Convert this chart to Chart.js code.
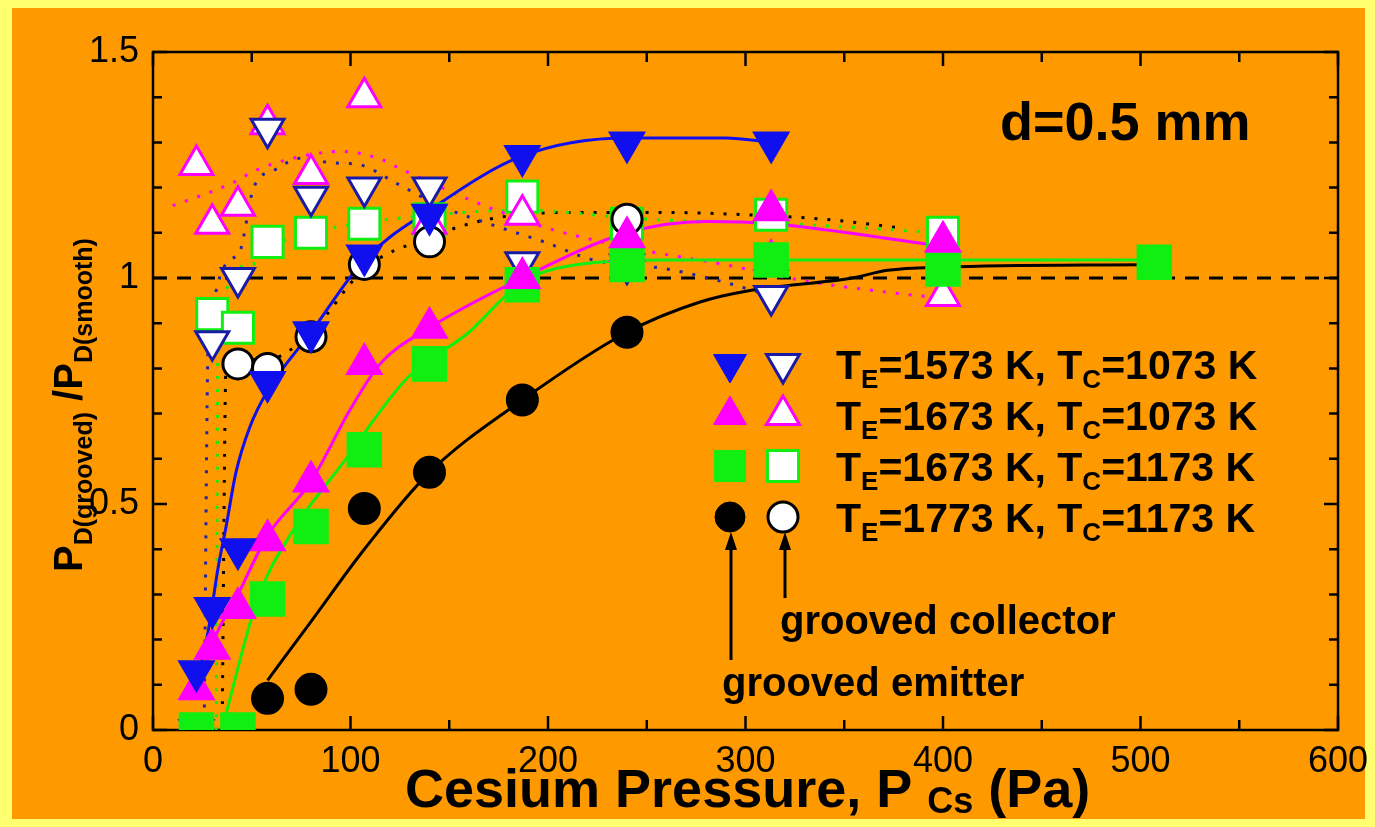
<!DOCTYPE html>
<html>
<head>
<meta charset="utf-8">
<script src="https://cdn.jsdelivr.net/npm/chart.js@4.4.1/dist/chart.umd.min.js"></script>
<style>
  html, body { margin: 0; padding: 0; background: #ffff66; }
  #wrap { width: 1375px; height: 827px; }
</style>
</head>
<body>
<div id="wrap"><canvas id="mychart" width="1375" height="827"></canvas></div>
<script>
//. cesium pressure values (Pa) shared by the measured points
var pressure = [ 22, 30, 43, 58, 80, 107, 140, 187, 240, 313, 400, 507 ];

//. P_D(grooved)/P_D(smooth), null = no point
var te1573_emitter   = [ 0.13, 0.27, 0.40, 0.77, 0.88, 1.05, 1.14, 1.27, 1.30, 1.30, null, null ];
var te1573_collector = [ 0.00, 0.86, 1.00, 1.33, 1.18, 1.20, 1.20, 1.035, 1.03, 0.96, null, null ];
var te1673_emitter   = [ 0.09, 0.18, 0.27, 0.42, 0.55, 0.81, 0.89, 1.00, 1.09, 1.15, 1.08, null ];
var te1673_collector = [ 1.25, 1.12, 1.16, 1.34, 1.23, 1.40, 1.12, 1.14, 1.06, 1.04, 0.96, null ];
var tc1173_emitter   = [ 0.00, null, 0.00, 0.29, 0.45, 0.62, 0.81, 0.985, 1.03, 1.04, 1.02, 1.035 ];
var tc1173_collector = [ null, 0.92, 0.89, 1.08, 1.10, 1.12, 1.13, 1.18, 1.12, 1.14, 1.10, null ];
var te1773_emitter   = [ null, null, null, 0.07, 0.09, 0.49, 0.57, 0.73, 0.88, null, null, null ];
var te1773_collector = [ null, null, 0.81, 0.80, 0.87, 1.03, 1.08, null, 1.13, null, null, null ];

//. fitted curves (solid = grooved emitter)
var fit1573_x = [ 22, 28, 33, 37, 42, 49, 58, 80, 107, 140, 187, 240, 290, 313 ];
var fit1573_y = [ 0.10, 0.22, 0.36, 0.45, 0.57, 0.67, 0.75, 0.88, 1.04, 1.15, 1.27, 1.31, 1.31, 1.30 ];
var fit1673_x = [ 22, 30, 43, 58, 80, 100, 115, 140, 187, 240, 280, 313, 400 ];
var fit1673_y = [ 0.07, 0.19, 0.30, 0.43, 0.55, 0.71, 0.81, 0.89, 1.00, 1.10, 1.125, 1.12, 1.07 ];
var fit1173_x = [ 36, 53, 70, 96, 129, 160, 181, 196, 215, 260, 313, 400, 507 ];
var fit1173_y = [ 0.02, 0.29, 0.435, 0.59, 0.78, 0.88, 0.97, 1.01, 1.03, 1.04, 1.04, 1.04, 1.04 ];
var fit1773_x = [ 58, 80, 107, 140, 187, 240, 277, 303, 354, 372, 400, 507 ];
var fit1773_y = [ 0.11, 0.24, 0.40, 0.57, 0.73, 0.88, 0.947, 0.973, 1.00, 1.017, 1.024, 1.03 ];

//. fitted curves (dotted = grooved collector)
var dot1573_x = [ 26, 28, 43, 51, 62, 75, 90, 105, 123, 145, 170, 198, 223, 260, 290, 313 ];
var dot1573_y = [ 0.05, 0.86, 1.05, 1.20, 1.24, 1.265, 1.255, 1.25, 1.21, 1.16, 1.12, 1.08, 1.04, 1.02, 0.99, 0.96 ];
var dot1673_x = [ 10, 29, 40, 53, 76, 95, 114, 126, 162, 200, 250, 289, 328, 369, 400 ];
var dot1673_y = [ 1.16, 1.19, 1.21, 1.24, 1.27, 1.28, 1.265, 1.24, 1.17, 1.11, 1.06, 1.03, 0.995, 0.97, 0.955 ];
var dot1173_x = [ 32, 33, 50, 65, 90, 120, 187, 250, 320, 400 ];
var dot1173_y = [ 0.00, 0.90, 1.03, 1.08, 1.11, 1.13, 1.15, 1.13, 1.12, 1.10 ];
var dot1773_x = [ 35, 37, 58, 80, 107, 140, 170, 210, 260, 300, 340, 380 ];
var dot1773_y = [ 0.00, 0.80, 0.82, 0.88, 1.02, 1.09, 1.13, 1.145, 1.145, 1.14, 1.13, 1.11 ];

var unity_x = [ 0, 600 ];
var unity_y = [ 1, 1 ];

//. axis ticks
var x_ticks = [ 0, 100, 200, 300, 400, 500, 600 ];
var y_ticks = [ 0, 0.5, 1, 1.5 ];
var y_tick_labels = [ '0', '0.5', '1', '1.5' ];

var BLUE = '#1010ee', PINK = '#ff00ff', GREEN = '#11ee11', BLACK = '#000000', WHITE = '#ffffff';
var FONT = '"Liberation Sans", Arial, sans-serif';

function pts( xs, ys ){
  var r = [];
  for( var i = 0; i < xs.length; i ++ ){
    if( ys[i] !== null ){ r.push( { x: xs[i], y: ys[i] } ); }
  }
  return r;
}

function markerSet( label, ys, style, rot, radius, fill, border, order ){
  return {
    label: label, data: pts( pressure, ys ), showLine: false,
    pointStyle: style, pointRotation: rot, pointRadius: radius, pointHoverRadius: radius,
    backgroundColor: fill, borderColor: border, pointBorderWidth: 3, order: order
  };
}

function lineSet( xs, ys, color, dash, order ){
  return {
    data: pts( xs, ys ), showLine: true, pointRadius: 0, borderColor: color,
    borderWidth: 3, borderDash: dash, tension: dash.length ? 0 : 0.4,
    cubicInterpolationMode: 'monotone', fill: false, order: order
  };
}

var datasets = [
  markerSet( '1573e', te1573_emitter, 'triangle', 180, 19, BLUE, BLUE, 1 ),
  markerSet( '1673e', te1673_emitter, 'triangle', 0, 19, PINK, PINK, 1 ),
  markerSet( '1173e', tc1173_emitter, 'rect', 0, 23, GREEN, GREEN, 1 ),
  markerSet( '1773e', te1773_emitter, 'circle', 0, 15, BLACK, BLACK, 1 ),
  markerSet( '1573c', te1573_collector, 'triangle', 180, 19, WHITE, '#1a1aa8', 2 ),
  markerSet( '1673c', te1673_collector, 'triangle', 0, 19, WHITE, PINK, 3 ),
  markerSet( '1173c', tc1173_collector, 'rect', 0, 22, WHITE, GREEN, 4 ),
  markerSet( '1773c', te1773_collector, 'circle', 0, 15, WHITE, BLACK, 2 ),
  lineSet( fit1573_x, fit1573_y, BLUE, [], 5 ),
  lineSet( fit1673_x, fit1673_y, PINK, [], 5 ),
  lineSet( fit1173_x, fit1173_y, GREEN, [], 5 ),
  lineSet( fit1773_x, fit1773_y, BLACK, [], 5 ),
  lineSet( dot1573_x, dot1573_y, '#2222aa', [ 3, 10 ], 6 ),
  lineSet( dot1673_x, dot1673_y, PINK, [ 3, 10 ], 6 ),
  lineSet( dot1173_x, dot1173_y, GREEN, [ 3, 10 ], 6 ),
  lineSet( dot1773_x, dot1773_y, BLACK, [ 3, 10 ], 6 ),
  lineSet( unity_x, unity_y, BLACK, [ 14, 10 ], 7 )
];

//. text with subscripts: parts = [ [text, size, dy], ... ]
function richText( ctx, parts, x, y ){
  var cx = x;
  parts.forEach( function( p ){
    ctx.font = 'bold ' + p[1] + 'px ' + FONT;
    ctx.fillText( p[0], cx, y + p[2] );
    cx += ctx.measureText( p[0] ).width;
  });
  return cx;
}

function arrow( ctx, x, y0, y1 ){
  ctx.beginPath();
  ctx.moveTo( x, y0 ); ctx.lineTo( x, y1 + 14 );
  ctx.lineWidth = 3; ctx.strokeStyle = BLACK; ctx.stroke();
  ctx.beginPath();
  ctx.moveTo( x, y1 ); ctx.lineTo( x - 6, y1 + 18 ); ctx.lineTo( x + 6, y1 + 18 );
  ctx.closePath(); ctx.fillStyle = BLACK; ctx.fill();
}

var decor = {
  id: 'decor',
  beforeDraw: function( chart ){
    var ctx = chart.ctx;
    ctx.save();
    ctx.fillStyle = '#ffff70';
    ctx.fillRect( 0, 0, chart.width, chart.height );
    ctx.fillStyle = '#ff9900';
    ctx.fillRect( 12, 8, chart.width - 22, chart.height - 16 );
    ctx.restore();
  },
  beforeDatasetsDraw: function( chart ){
    var ctx = chart.ctx, a = chart.chartArea;
    var xs = chart.scales.x, ys = chart.scales.y;
    ctx.save();
    ctx.strokeStyle = BLACK; ctx.lineWidth = 2.5;
    ctx.strokeRect( a.left, a.top, a.right - a.left, a.bottom - a.top );
    ctx.beginPath();
    for( var v = 0; v <= 600; v += 50 ){
      var px = xs.getPixelForValue( v ), len = ( v % 100 === 0 ) ? 14 : 10;
      ctx.moveTo( px, a.bottom ); ctx.lineTo( px, a.bottom - len );
      ctx.moveTo( px, a.top ); ctx.lineTo( px, a.top + len );
    }
    for( var i = 0; i <= 15; i ++ ){
      var py = ys.getPixelForValue( i / 10 ), l2 = ( i % 5 === 0 ) ? 14 : 9;
      ctx.moveTo( a.left, py ); ctx.lineTo( a.left + l2, py );
      ctx.moveTo( a.right, py ); ctx.lineTo( a.right - l2, py );
    }
    ctx.stroke();
    ctx.restore();
  },
  afterDraw: function( chart ){
    var ctx = chart.ctx;
    ctx.save();
    ctx.fillStyle = BLACK;
    ctx.textBaseline = 'alphabetic';
    ctx.textAlign = 'left';

    //. d=0.5 mm
    richText( ctx, [ [ 'd=0.5 mm', 54, 0 ] ], 1000, 140 );

    //. legend
    var rows = [
      [ 'triangle', 180, 19, BLUE, '#1a1aa8', '1573', '1073' ],
      [ 'triangle', 0, 19, PINK, PINK, '1673', '1073' ],
      [ 'rect', 0, 22, GREEN, GREEN, '1673', '1173' ],
      [ 'circle', 0, 15, BLACK, BLACK, '1773', '1173' ]
    ];
    rows.forEach( function( r, k ){
      var cy = 364 + k * 51;
      var opt = { pointStyle: r[0], rotation: r[1], radius: r[2], borderWidth: 3 };
      ctx.fillStyle = r[3]; ctx.strokeStyle = r[3]; ctx.lineWidth = 1;
      Chart.helpers.drawPoint( ctx, opt, 730, cy );
      ctx.fillStyle = WHITE; ctx.strokeStyle = r[4]; ctx.lineWidth = 3;
      Chart.helpers.drawPoint( ctx, opt, 783, cy );
      ctx.fillStyle = BLACK;
      richText( ctx, [ [ 'T', 41, 0 ], [ 'E', 26, 9 ], [ '=' + r[5] + ' K, T', 41, 0 ], [ 'C', 26, 9 ], [ '=' + r[6] + ' K', 41, 0 ] ], 836, cy + 15 );
    });

    arrow( ctx, 731, 660, 532 );
    arrow( ctx, 785, 598, 532 );
    richText( ctx, [ [ 'grooved collector', 40, 0 ] ], 780, 634 );
    richText( ctx, [ [ 'grooved emitter', 40, 0 ] ], 722, 696 );

    //. x title
    richText( ctx, [ [ 'Cesium Pressure, P ', 54, 0 ], [ 'Cs', 36, 6 ], [ ' (Pa)', 54, 0 ] ], 405, 807 );

    //. y title (rotated)
    ctx.translate( 82, 572 );
    ctx.rotate( -Math.PI / 2 );
    richText( ctx, [ [ 'P', 40, 0 ], [ 'D(grooved)', 25, 10 ], [ ' /P', 40, 0 ], [ 'D(smooth)', 25, 10 ] ], 0, 0 );
    ctx.restore();
  }
};

var ctx = document.getElementById( 'mychart' );
var chart = new Chart( ctx, {
  type: 'scatter',
  data: { datasets: datasets },
  options: {
    responsive: false,
    devicePixelRatio: 1,
    animation: false,
    layout: { padding: { left: 0, right: 37, top: 52, bottom: 0 } },
    plugins: { legend: { display: false }, tooltip: { enabled: false } },
    scales: {
      x: {
        type: 'linear', min: 0, max: 600,
        grid: { display: false }, border: { display: false },
        afterBuildTicks: function( s ){ s.ticks = x_ticks.map( function( v ){ return { value: v }; } ); },
        afterFit: function( s ){ s.height = 97; },
        ticks: { padding: 2, color: BLACK, maxRotation: 0, font: { family: FONT, size: 36 } }
      },
      y: {
        type: 'linear', min: 0, max: 1.5,
        grid: { display: false }, border: { display: false },
        afterBuildTicks: function( s ){ s.ticks = y_ticks.map( function( v ){ return { value: v }; } ); },
        afterFit: function( s ){ s.width = 153; },
        ticks: {
          padding: 6, color: BLACK, font: { family: FONT, size: 36 },
          callback: function( v ){ return y_tick_labels[ y_ticks.indexOf( v ) ]; }
        }
      }
    }
  },
  plugins: [ decor ]
});
</script>
</body>
</html>
